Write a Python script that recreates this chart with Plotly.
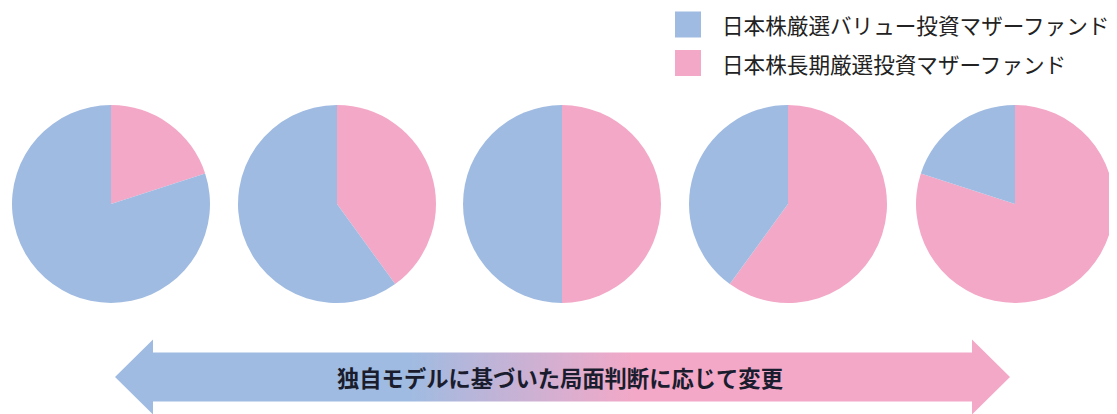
import plotly.graph_objects as go

# The page places the figure 8px from the window's top-left corner,
# so the figure is 8px smaller and all reference pixel positions are shifted.
OFF = 8
W, H = 1117 - OFF, 414 - OFF

series_names = ["日本株厳選バリュー投資マザーファンド", "日本株長期厳選投資マザーファンド"]
blue_share = [80, 60, 50, 40, 20]
pink_share = [20, 40, 50, 60, 80]
arrow_text = "独自モデルに基づいた局面判断に応じて変更"

BLUE = "#A0BBE1"
PINK = "#F3A8C7"
FONT = "Noto Sans CJK JP"

pie_cx = [111, 337, 562, 788, 1015]
pie_cy = 204
pie_r = 99


def px(x):
    return x - OFF


def py(y):
    return H - (y - OFF)


fig = go.Figure()

for i, cx in enumerate(pie_cx):
    fig.add_trace(go.Pie(
        labels=[series_names[1], series_names[0]],
        values=[pink_share[i], blue_share[i]],
        sort=False,
        direction="clockwise",
        rotation=0,
        marker=dict(colors=[PINK, BLUE], line=dict(width=0)),
        textinfo="none",
        hoverinfo="label+percent",
        showlegend=False,
        domain=dict(
            x=[px(cx - pie_r) / W, px(cx + pie_r) / W],
            y=[py(pie_cy + pie_r) / H, py(pie_cy - pie_r) / H],
        ),
    ))

# double-headed arrow with gradient fill (reference pixel coordinates)
ay = 377
body_half = 24.5
head_half = 37.5
x_left_tip, x_left_base = 115, 153
x_right_tip, x_right_base = 1010, 972
ax = [x_left_tip, x_left_base, x_left_base, x_right_base, x_right_base,
      x_right_tip, x_right_base, x_right_base, x_left_base, x_left_base, x_left_tip]
ayy = [ay, ay - head_half, ay - body_half, ay - body_half, ay - head_half,
       ay, ay + head_half, ay + body_half, ay + body_half, ay + head_half, ay]
fig.add_trace(go.Scatter(
    x=[px(v) for v in ax], y=[py(v) for v in ayy],
    mode="lines", line=dict(width=0),
    fill="toself",
    fillgradient=dict(type="horizontal",
                      colorscale=[[0, BLUE], [0.33, BLUE], [0.58, PINK], [1, PINK]]),
    hoverinfo="skip", showlegend=False,
))

fig.add_annotation(
    x=px(560), y=py(ay), xref="x", yref="y", text=arrow_text, showarrow=False,
    font=dict(family=FONT, size=22.3, color="#1a1d2e", weight="bold"),
    xanchor="center", yanchor="middle",
)

# legend drawn manually
leg_x0, leg_sq = 675, 26
leg_rows = [24.5, 63]
for name, col, yc in zip(series_names, [BLUE, PINK], leg_rows):
    fig.add_shape(type="rect", xref="x", yref="y",
                  x0=px(leg_x0), x1=px(leg_x0 + leg_sq),
                  y0=py(yc + leg_sq / 2), y1=py(yc - leg_sq / 2),
                  fillcolor=col, line=dict(width=0))
    fig.add_annotation(x=px(720), y=py(yc), xref="x", yref="y", text=name,
                       showarrow=False, xanchor="left", yanchor="middle",
                       font=dict(family=FONT, size=21.6, color="#222222"))

fig.update_layout(
    width=W, height=H,
    margin=dict(l=0, r=0, t=0, b=0),
    paper_bgcolor="white", plot_bgcolor="white",
    xaxis=dict(range=[0, W], visible=False, fixedrange=True),
    yaxis=dict(range=[0, H], visible=False, fixedrange=True),
    showlegend=False,
)

fig.write_html("out.html")
